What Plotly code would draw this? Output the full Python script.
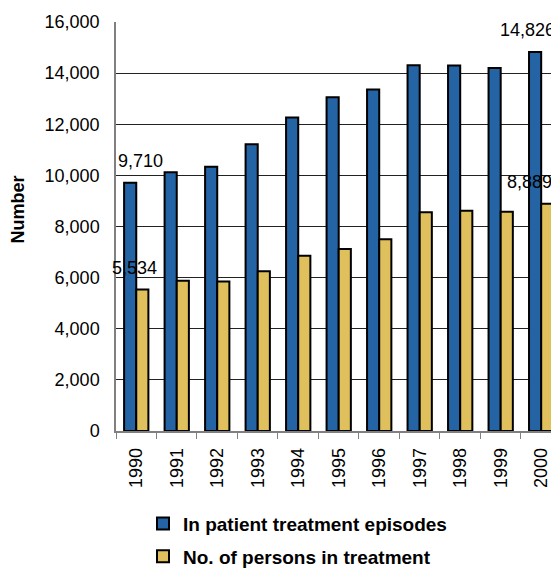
import plotly.graph_objects as go

years = ["1990", "1991", "1992", "1993", "1994", "1995", "1996", "1997", "1998", "1999", "2000"]
episodes = [9710, 10120, 10340, 11220, 12260, 13060, 13360, 14310, 14300, 14200, 14826]
persons = [5534, 5880, 5850, 6250, 6860, 7120, 7500, 8560, 8620, 8580, 8889]
series_names = ["In patient treatment episodes", "No. of persons in treatment"]
y_ticks = [0, 2000, 4000, 6000, 8000, 10000, 12000, 14000, 16000]

FONT = "Liberation Sans, Arial, sans-serif"
BLUE = "#2463A4"
YELLOW = "#E0C05C"

# page body has an 8px default margin; size the figure to fit the 559x568 window
PAGE_OFF = 8
W, H = 559 - PAGE_OFF, 568 - PAGE_OFF
ML, MT = 116 - PAGE_OFF, 22 - PAGE_OFF
PLOT_H = 409
MB = H - MT - PLOT_H
PLOT_W = W - ML

fig = go.Figure()
fig.add_trace(go.Bar(x=years, y=episodes, name=series_names[0], legendgroup="a",
                     marker=dict(color=BLUE, line=dict(color="black", width=2))))
fig.add_trace(go.Bar(x=years, y=persons, name=series_names[1], legendgroup="b",
                     marker=dict(color=YELLOW, line=dict(color="black", width=2))))

# data labels for first and last year (x given as category index)
label_specs = [
    (0, episodes, 4),
    (0, persons, -2),
    (10, episodes, -14),
    (10, persons, -12),
]
for idx, series, xs in label_specs:
    fig.add_annotation(x=idx, xref="x", y=series[idx], yref="y", text=f"{series[idx]:,}",
                       showarrow=False, xshift=xs, yshift=22, yanchor="middle",
                       font=dict(family=FONT, size=18, color="black"))

# y axis title
fig.add_annotation(x=(17.5 - 116) / PLOT_W, xref="paper", y=(431 - 210) / PLOT_H, yref="paper",
                   text="<b>Number</b>", textangle=-90, showarrow=False,
                   xanchor="center", yanchor="middle",
                   font=dict(family=FONT, size=18, color="black"))

fig.update_layout(
    width=W, height=H,
    margin=dict(l=ML, r=0, t=MT, b=MB, autoexpand=False),
    paper_bgcolor="white", plot_bgcolor="white",
    barmode="group", bargap=0.4, bargroupgap=0,
    font=dict(family=FONT, size=18, color="black"),
    showlegend=True,
    legend=dict(x=(143 - 116) / PLOT_W, xanchor="left", y=-0.180, yanchor="top",
                orientation="v", traceorder="grouped", tracegroupgap=5,
                font=dict(family=FONT, size=19, color="black", weight="bold"),
                bgcolor="rgba(0,0,0,0)"),
)
fig.update_xaxes(type="category", range=[-0.5, 10.44], tickangle=-90, automargin=False,
                 ticks="outside", tickson="boundaries", ticklen=6, tickcolor="#808080",
                 ticklabelstandoff=8,
                 showline=True, linecolor="#808080", linewidth=1.5,
                 showgrid=False, tickfont=dict(family=FONT, size=18))
fig.update_yaxes(range=[0, 16000], tickvals=y_ticks, tickformat=",", automargin=False,
                 showgrid=True, gridcolor="#222222", gridwidth=1,
                 showline=True, linecolor="#808080", linewidth=1.5,
                 zeroline=False, ticks="", ticklabelstandoff=11,
                 tickfont=dict(family=FONT, size=18))

fig.write_html("out.html")
